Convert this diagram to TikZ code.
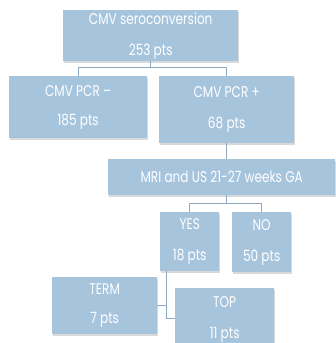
\documentclass[tikz,border=0pt]{standalone}
\usepackage{fontspec}
\usepackage{graphicx}
\setmainfont{Poppins}
\usetikzlibrary{shadows}
\definecolor{boxblue}{HTML}{A7C4DD}
\definecolor{linecol}{HTML}{8FA9C2}
\newcommand\sq[1]{\scalebox{0.78}[1]{#1}}
\tikzset{
  box/.style={fill=boxblue, draw=none, text=white, anchor=north west, inner sep=0pt,
    align=center, font=\fontsize{15.5}{31}\selectfont,
    drop shadow={shadow xshift=1pt, shadow yshift=-1.5pt, fill=black, opacity=0.15}},
  conn/.style={draw=linecol, line width=0.7pt}
}
\begin{document}
\begin{tikzpicture}[x=1pt,y=-1pt]
\useasboundingbox (0,0) rectangle (335,343);
\node[box, minimum width=175pt, minimum height=51pt] (s) at (63,10) {\sq{CMV seroconversion}\\\sq{253 pts}};
\node[box, minimum width=138pt, minimum height=62pt, font=\fontsize{15.5}{29}\selectfont] (neg) at (9,76) {\sq{CMV PCR –}\\\sq{185 pts}};
\node[box, minimum width=135pt, minimum height=67pt] (pos) at (159,76) {\sq{CMV PCR +}\\\sq{68 pts}};
\node[box, minimum width=227pt, minimum height=36pt] (m) at (108,159) {\sq{MRI and US 21-27 weeks GA}};
\node[box, minimum width=59pt, minimum height=59pt] (yes) at (160,212) {\sq{YES}\\\sq{18 pts}};
\node[box, minimum width=59pt, minimum height=60pt] (no) at (232,212) {\sq{NO}\\\sq{50 pts}};
\node[box, minimum width=105pt, minimum height=57pt, font=\fontsize{15.5}{29}\selectfont] (term) at (52,277) {\sq{TERM}\\\sq{7 pts}};
\node[box, minimum width=99pt, minimum height=63pt] (top) at (175,288) {\sq{TOP}\\\sq{11 pts}};
\coordinate (f1) at ([yshift=-6pt]s.south);
\draw[conn] (s.south) -- (f1);
\draw[conn] (f1) -| (neg.north);
\draw[conn] (f1) -| (pos.north);
\draw[conn] (pos.south) -- (pos.south |- m.north);
\coordinate (f2) at ([yshift=-8pt]pos.south |- m.south);
\draw[conn] (pos.south |- m.south) -- (f2);
\draw[conn] (f2) -| (yes.north);
\draw[conn] (f2) -| (no.north);
\coordinate (yb) at ([xshift=6pt]yes.south west);
\coordinate (tp) at (yb |- 0,318);
\draw[conn] (yb) -- (tp) -- (tp -| top.west);
\draw[conn] (term.east |- 0,305) -- (yb |- 0,305);
\end{tikzpicture}
\end{document}
